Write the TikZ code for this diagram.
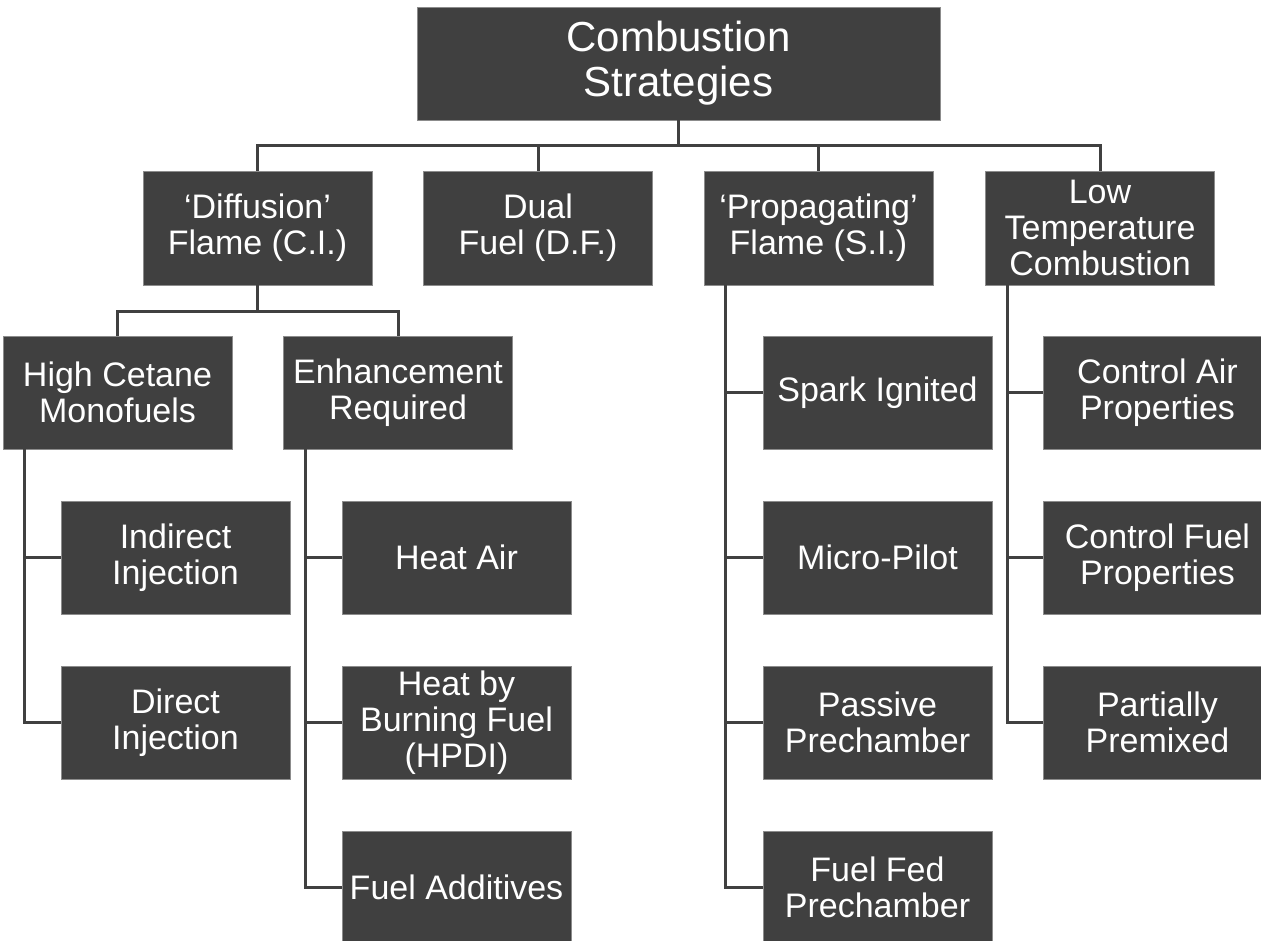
\documentclass[tikz,border=0pt]{standalone}
\usepackage{fontspec}
\setmainfont{Liberation Sans}
\definecolor{boxgray}{HTML}{404040}
\definecolor{boxedge}{HTML}{8C8C8C}
\begin{document}
\begin{tikzpicture}[x=1pt,y=-1pt,
  box/.style={fill=boxgray,draw=boxedge,line width=0.8pt,text=white,align=center,
    minimum width=229pt,minimum height=113pt,inner sep=0pt,
    font=\fontsize{34}{36}\selectfont},
  link/.style={draw=boxgray,line width=3pt}]
\useasboundingbox (0,0) rectangle (1261,940);

\node[box,minimum width=523pt,font=\fontsize{42}{45}\selectfont] (cs) at (678.5,63.5) {Combustion\\Strategies};

\node[box,minimum height=114pt] (diff) at (257.5,228) {‘Diffusion’\\Flame (C.I.)};
\node[box,minimum height=114pt] (dual) at (538,228) {Dual\\Fuel (D.F.)};
\node[box,minimum height=114pt] (prop) at (818.5,228) {‘Propagating’\\Flame (S.I.)};
\node[box,minimum height=114pt] (ltc) at (1100,228) {Low\\Temperature\\Combustion};

\node[box] (hcm) at (117.5,392.5) {High Cetane\\Monofuels};
\node[box] (enh) at (398,392.5) {Enhancement\\Required};
\node[box] (spark) at (877.5,392.5) {Spark Ignited};
\node[box] (cair) at (1157.5,392.5) {Control Air\\Properties};

\node[box] (ind) at (175.5,557.5) {Indirect\\Injection};
\node[box] (heat) at (456.5,557.5) {Heat Air};
\node[box] (micro) at (877.5,557.5) {Micro-Pilot};
\node[box] (cfuel) at (1157.5,557.5) {Control Fuel\\Properties};

\node[box] (dir) at (175.5,722.5) {Direct\\Injection};
\node[box] (hpdi) at (456.5,722.5) {Heat by\\Burning Fuel\\(HPDI)};
\node[box] (passive) at (877.5,722.5) {Passive\\Prechamber};
\node[box] (ppre) at (1157.5,722.5) {Partially\\Premixed};

\node[box] (add) at (456.5,887.5) {Fuel Additives};
\node[box] (fedpre) at (877.5,887.5) {Fuel Fed\\Prechamber};

\coordinate (bus) at (0,145);
\coordinate (bus2) at (0,311);

\draw[link] (cs.south) -- (cs.south |- bus);
\draw[link] (diff.north) -- (diff.north |- bus) -- (ltc.north |- bus) -- (ltc.north);
\draw[link] (dual.north) -- (dual.north |- bus);
\draw[link] (prop.north) -- (prop.north |- bus);

\draw[link] (diff.south) -- (diff.south |- bus2);
\draw[link] (hcm.north) -- (hcm.north |- bus2) -- (enh.north |- bus2) -- (enh.north);

\draw[link] ([xshift=21.5pt]hcm.south west) |- (ind.west);
\draw[link] ([xshift=21.5pt]hcm.south west) |- (dir.west);

\draw[link] ([xshift=22pt]enh.south west) |- (heat.west);
\draw[link] ([xshift=22pt]enh.south west) |- (hpdi.west);
\draw[link] ([xshift=22pt]enh.south west) |- (add.west);

\draw[link] ([xshift=22pt]prop.south west) |- (spark.west);
\draw[link] ([xshift=22pt]prop.south west) |- (micro.west);
\draw[link] ([xshift=22pt]prop.south west) |- (passive.west);
\draw[link] ([xshift=22pt]prop.south west) |- (fedpre.west);

\draw[link] ([xshift=22pt]ltc.south west) |- (cair.west);
\draw[link] ([xshift=22pt]ltc.south west) |- (cfuel.west);
\draw[link] ([xshift=22pt]ltc.south west) |- (ppre.west);
\end{tikzpicture}
\end{document}
